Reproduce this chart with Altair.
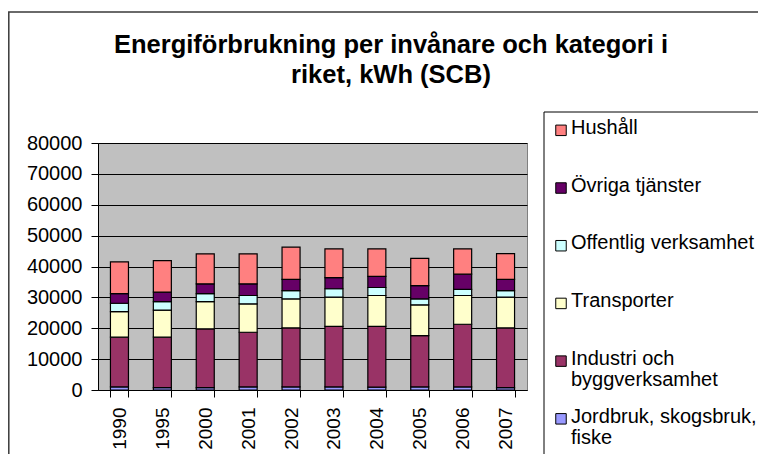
import altair as alt
import pandas as pd

# ---- data ----
years = ["1990", "1995", "2000", "2001", "2002", "2003", "2004", "2005", "2006", "2007"]
categories = ["Hushåll", "Övriga tjänster", "Offentlig verksamhet", "Transporter",
              "Industri och byggverksamhet", "Jordbruk, skogsbruk, fiske"]
colors = ["#FF8080", "#660066", "#CCFFFF", "#FFFFCC", "#993366", "#9999FF"]

jordbruk = [1000, 800, 800, 1000, 1000, 1000, 900, 1000, 1000, 800]
industri = [16100, 16300, 19000, 17700, 19100, 19600, 19700, 16600, 20300, 19300]
transporter = [8300, 8800, 8800, 9200, 9400, 9500, 10000, 10000, 9300, 10000]
offentlig = [2700, 2700, 2600, 2700, 2700, 2700, 2600, 1900, 2000, 2100]
ovriga = [3100, 3100, 3200, 3800, 3600, 3600, 3600, 4300, 4900, 3600]
hushall = [10300, 10200, 9700, 9700, 10500, 9300, 8900, 8800, 8200, 8400]

y_ticks = [0, 10000, 20000, 30000, 40000, 50000, 60000, 70000, 80000]
title_lines = ["Energiförbrukning per invånare och kategori i", "riket, kWh (SCB)"]
legend_lines = {
    "Industri och byggverksamhet": ["Industri och", "byggverksamhet"],
    "Jordbruk, skogsbruk, fiske": ["Jordbruk, skogsbruk,", "fiske"],
}

series = {
    "Jordbruk, skogsbruk, fiske": jordbruk,
    "Industri och byggverksamhet": industri,
    "Transporter": transporter,
    "Offentlig verksamhet": offentlig,
    "Övriga tjänster": ovriga,
    "Hushåll": hushall,
}

rows = []
for s_idx, (cat, vals) in enumerate(series.items()):
    for yr, v in zip(years, vals):
        rows.append({"year": yr, "category": cat, "value": v, "stack": s_idx})
df = pd.DataFrame(rows)

FONT = "Liberation Sans"

# label expression for the two-line legend entries
expr = "datum.label"
for k, lines in legend_lines.items():
    arr = "[" + ",".join("'" + l + "'" for l in lines) + "]"
    expr = f"datum.label == '{k}' ? {arr} : ({expr})"

bars = alt.Chart(df).mark_bar(stroke="black", strokeWidth=1.2).encode(
    x=alt.X("year:N", sort=years,
            scale=alt.Scale(paddingInner=0.58, paddingOuter=0.29),
            axis=alt.Axis(title=None, labelAngle=-90, tickBand="extent", tickSize=7,
                          labelPadding=10, grid=False, domainColor="black",
                          tickColor="black", labelFontSize=19)),
    y=alt.Y("value:Q", stack="zero",
            scale=alt.Scale(domain=[0, 80000], nice=False),
            axis=alt.Axis(title=None, values=y_ticks, format="d", tickSize=7,
                          labelPadding=9, grid=True, gridColor="black", gridWidth=1,
                          domainColor="black", tickColor="black", labelFontSize=20)),
    color=alt.Color("category:N",
                    scale=alt.Scale(domain=categories, range=colors),
                    legend=alt.Legend(title=None, orient="none", legendX=453, legendY=-35,
                                      padding=0, symbolType="M-1,1.35H1V3.35H-1Z",
                                      symbolSize=110, symbolStrokeColor="black",
                                      symbolStrokeWidth=1, labelFont=FONT, labelFontSize=20,
                                      labelColor="black", labelBaseline="top",
                                      labelOffset=0, labelLimit=400, gridAlign="all",
                                      rowPadding=6.7, labelExpr=expr)),
    order=alt.Order("stack:Q", sort="ascending"),
)

one = pd.DataFrame({"k": [0]})
outer_frame = alt.Chart(one).mark_rect(filled=False, stroke="#3a3a3a", strokeWidth=1.5).encode(
    x=alt.value(-89.2), y=alt.value(-131), x2=alt.value(800), y2=alt.value(600))
legend_frame = alt.Chart(one).mark_rect(filled=False, stroke="black", strokeWidth=1).encode(
    x=alt.value(446), y=alt.value(-31), x2=alt.value(800), y2=alt.value(600))

chart = alt.layer(bars, outer_frame, legend_frame).properties(
    width=429, height=247,
    title=alt.TitleParams(text=title_lines, font=FONT, fontSize=25.5, fontWeight="bold",
                          lineHeight=30, anchor="middle", frame="group", offset=0,
                          dx=78.5, dy=77, color="black"),
    autosize=alt.AutoSizeParams(type="none"),
    padding={"left": 90, "top": 135, "right": 231, "bottom": 64},
).configure(
    font=FONT,
    style={"guide-label": {"lineHeight": 21}},
).configure_view(
    fill="#C0C0C0", stroke="#808080", strokeWidth=1,
).configure_axis(
    labelFont=FONT, labelColor="black",
)

chart.save("out.html", embed_options={"renderer": "svg", "actions": False})
